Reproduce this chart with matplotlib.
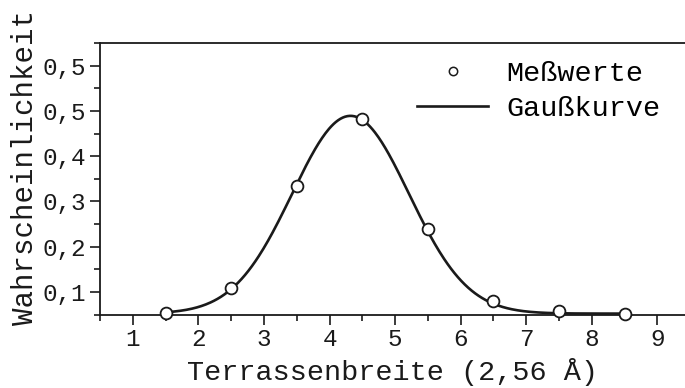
import numpy as np
import matplotlib
matplotlib.use("Agg")
from matplotlib import pyplot as plt
from matplotlib.lines import Line2D
from matplotlib.ticker import MultipleLocator, FixedLocator

# measured terrace width distribution (units of 2.56 Å)
terrace_width = [1.5, 2.5, 3.5, 4.5, 5.5, 6.5, 7.5, 8.5]
probability = [0.053, 0.108, 0.334, 0.482, 0.239, 0.080, 0.057, 0.052]

# Gaussian fit parameters: offset, amplitude, centre, width
gauss_y0 = 0.052
gauss_amp = 0.437
gauss_xc = 4.32
gauss_w = 0.89

y_ticks = [0.1, 0.2, 0.3, 0.4, 0.5, 0.6]
y_ticklabels = ["0,1", "0,2", "0,3", "0,4", "0,5", "0,5"]
x_ticks = [1, 2, 3, 4, 5, 6, 7, 8, 9]

plt.rcParams["font.family"] = ["Liberation Mono", "DejaVu Sans Mono"]
ink = "#1a1a1a"

W, H = 685, 388
fig = plt.figure(figsize=(W / 100, H / 100), dpi=100)
ax = fig.add_axes([100 / W, 1 - 314.5 / H, 1 - 100 / W, (314.5 - 43) / H])

xs = np.linspace(terrace_width[0], terrace_width[-1], 400)
gauss = gauss_y0 + gauss_amp * np.exp(-(xs - gauss_xc) ** 2 / (2 * gauss_w ** 2))
ax.plot(xs, gauss, color=ink, lw=1.9, zorder=2)
ax.plot(terrace_width, probability, ls="none", marker="o", ms=8.5,
        mfc="white", mec=ink, mew=1.3, zorder=3, clip_on=False)

ax.set_xlim(0.5, 9.42)
ax.set_ylim(0.05, 0.65)

ax.xaxis.set_major_locator(FixedLocator(x_ticks))
ax.xaxis.set_minor_locator(MultipleLocator(0.5))
ax.yaxis.set_major_locator(FixedLocator(y_ticks))
ax.set_yticklabels(y_ticklabels)
ax.yaxis.set_minor_locator(MultipleLocator(0.05))

ax.tick_params(which="major", direction="out", length=7, width=1.2,
               labelsize=17.5, colors=ink, pad=3)
ax.tick_params(which="minor", direction="out", length=4.5, width=1.2,
               colors=ink)

for side in ("left", "bottom", "top"):
    ax.spines[side].set_linewidth(1.3)
    ax.spines[side].set_color(ink)
ax.spines["right"].set_visible(False)

ax.set_xlabel("Terrassenbreite (2,56 Å)", fontsize=20.5, color=ink, labelpad=5)
ax.set_ylabel("Wahrscheinlichkeit", fontsize=21, color=ink)
ax.yaxis.set_label_coords(-0.105, 0.54)

handles = [
    Line2D([], [], ls="none", marker="o", ms=6, mfc="white", mec=ink, mew=1.1),
    Line2D([], [], color=ink, lw=1.9),
]
fig.legend(handles, ["Meßwerte", "Gaußkurve"], loc="upper left",
           bbox_to_anchor=(417 / W, 1 - 61 / H), frameon=False, fontsize=20.5,
           borderpad=0, borderaxespad=0,
           handlelength=2.5, handletextpad=0.65, labelspacing=0.3)

fig.savefig("out.png", dpi=100)
